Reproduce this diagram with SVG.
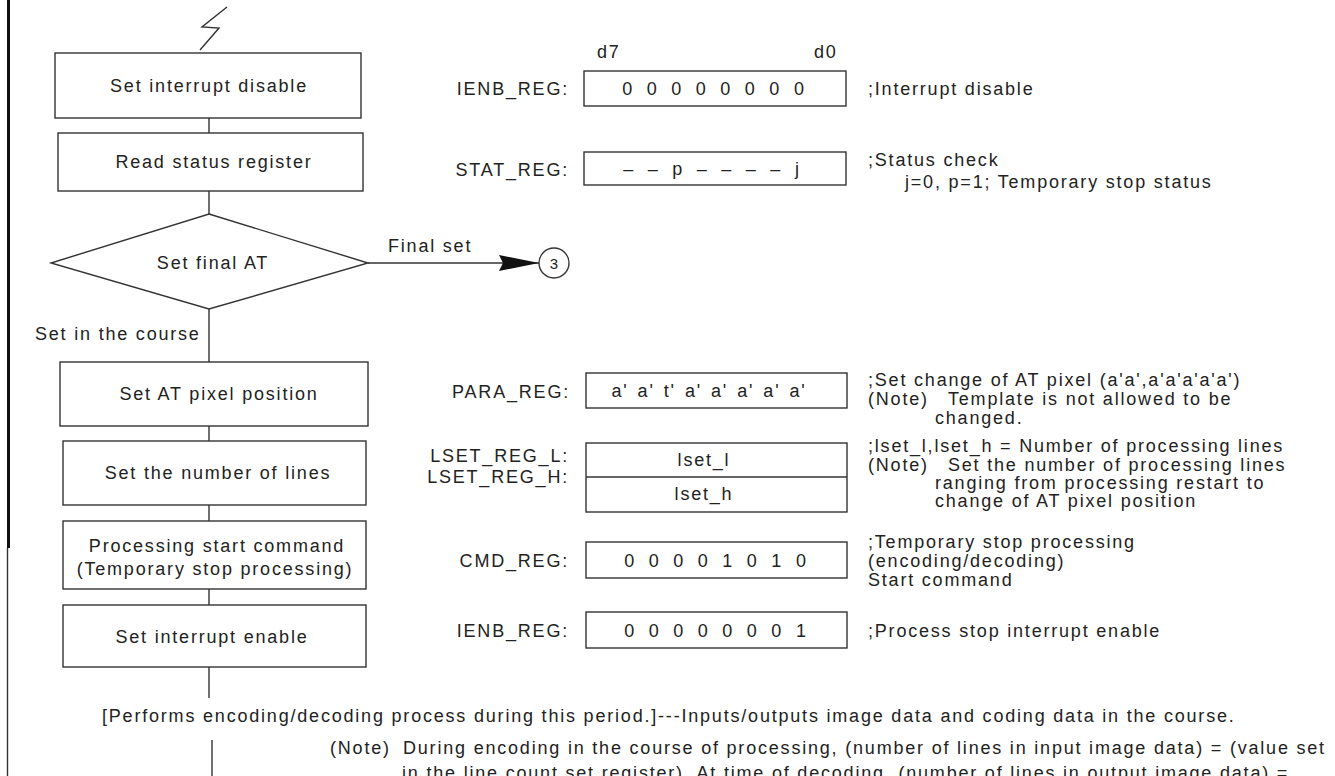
<svg xmlns="http://www.w3.org/2000/svg" width="1335" height="776" viewBox="0 0 1335 776">
  <style>
    text { font-family: "Liberation Sans", Arial, sans-serif; font-size: 18px; fill: #222; letter-spacing: 1.8px; }
    .c { text-anchor: middle; }
    .r { text-anchor: end; }
    .box { fill: #fff; stroke: #333; stroke-width: 1.4; }
    .ln { fill: none; stroke: #333; stroke-width: 1.4; }
    .reg { fill: #fff; stroke: #333; stroke-width: 1.4; }
    .bits { word-spacing: 5.9px; }
  </style>
  <defs>
    <marker id="arrow" viewBox="0 0 40 16" refX="40" refY="8" markerWidth="40" markerHeight="16" markerUnits="userSpaceOnUse" orient="auto">
      <path d="M0,0 L40,8 L0,16 L4,8 Z" fill="#111"/>
    </marker>
  </defs>

  <!-- page margin rule -->
  <line x1="8.5" y1="0" x2="8.5" y2="548" stroke="#111" stroke-width="3"/>
  <line x1="7.5" y1="548" x2="7.5" y2="776" stroke="#333" stroke-width="1.4"/>

  <!-- flow connectors -->
  <g id="connectors">
    <polyline class="ln" points="200,50 219,28 202,27 227,7"/>
    <line class="ln" x1="209" y1="118" x2="209" y2="133"/>
    <line class="ln" x1="209" y1="191" x2="209" y2="214"/>
    <line class="ln" x1="209" y1="309" x2="209" y2="362"/>
    <line class="ln" x1="209" y1="426" x2="209" y2="441"/>
    <line class="ln" x1="209" y1="505" x2="209" y2="521"/>
    <line class="ln" x1="209" y1="589" x2="209" y2="605"/>
    <line class="ln" x1="209" y1="667" x2="209" y2="698"/>
    <line class="ln" x1="212" y1="740" x2="212" y2="776"/>
    <line class="ln" x1="368" y1="263" x2="539" y2="263" marker-end="url(#arrow)"/>
    <text x="388" y="252">Final set</text>
    <text x="35" y="340">Set in the course</text>
  </g>

  <!-- flow steps -->
  <g id="step-disable">
    <rect class="box" x="55" y="53" width="306" height="65"/>
    <text class="c" x="209" y="92">Set interrupt disable</text>
  </g>
  <g id="step-read-status">
    <rect class="box" x="58" y="133" width="305" height="58"/>
    <text class="c" x="214" y="168">Read status register</text>
  </g>
  <g id="decision-final-at">
    <polygon class="box" points="209,214 368,263 209,309 51,263"/>
    <text class="c" x="213" y="269">Set final AT</text>
  </g>
  <g id="connector-3">
    <circle class="box" cx="554" cy="263" r="15"/>
    <text class="c" x="554" y="269" style="font-size:15px;letter-spacing:0">3</text>
  </g>
  <g id="step-at-pixel">
    <rect class="box" x="60" y="362" width="308" height="64"/>
    <text class="c" x="219" y="400">Set AT pixel position</text>
  </g>
  <g id="step-lines">
    <rect class="box" x="63" y="441" width="303" height="64"/>
    <text class="c" x="218" y="479">Set the number of lines</text>
  </g>
  <g id="step-start">
    <rect class="box" x="63" y="521" width="303" height="68"/>
    <text class="c" x="217" y="552">Processing start command</text>
    <text class="c" x="215" y="575">(Temporary stop processing)</text>
  </g>
  <g id="step-enable">
    <rect class="box" x="63" y="605" width="303" height="62"/>
    <text class="c" x="212" y="643">Set interrupt enable</text>
  </g>

  <!-- register images -->
  <g id="bit-labels">
    <text x="597" y="58">d7</text>
    <text x="814" y="58">d0</text>
  </g>
  <g id="reg-ienb-off">
    <text class="r" x="569" y="95">IENB_REG:</text>
    <rect class="reg" x="584" y="71" width="262" height="35"/>
    <text class="c bits" x="714" y="95">0 0 0 0 0 0 0 0</text>
    <text x="868" y="95">;Interrupt disable</text>
  </g>
  <g id="reg-stat">
    <text class="r" x="569" y="176">STAT_REG:</text>
    <rect class="reg" x="584" y="152" width="262" height="33"/>
    <text class="c bits" x="712" y="175">– – p – – – – j</text>
    <text x="868" y="166">;Status check</text>
    <text x="905" y="188">j=0, p=1; Temporary stop status</text>
  </g>
  <g id="reg-para">
    <text class="r" x="570" y="398">PARA_REG:</text>
    <rect class="reg" x="586" y="373" width="261" height="35"/>
    <text class="c" x="709" y="397" style="word-spacing:2.3px">a' a' t' a' a' a' a' a'</text>
    <text x="868" y="386">;Set change of AT pixel (a'a',a'a'a'a'a')</text>
    <text x="868" y="405">(Note)<tspan x="948">Template is not allowed to be</tspan></text>
    <text x="935" y="424">changed.</text>
  </g>
  <g id="reg-lset">
    <text class="r" x="569" y="462">LSET_REG_L:</text>
    <text class="r" x="569" y="483">LSET_REG_H:</text>
    <rect class="reg" x="586" y="443" width="261" height="69"/>
    <line class="ln" x1="586" y1="477" x2="847" y2="477"/>
    <text class="c" x="704" y="466">lset_l</text>
    <text class="c" x="704" y="500">lset_h</text>
    <text x="868" y="452">;lset_l,lset_h = Number of processing lines</text>
    <text x="868" y="471">(Note)<tspan x="948">Set the number of processing lines</tspan></text>
    <text x="935" y="489">ranging from processing restart to</text>
    <text x="935" y="507">change of AT pixel position</text>
  </g>
  <g id="reg-cmd">
    <text class="r" x="569" y="567">CMD_REG:</text>
    <rect class="reg" x="586" y="542" width="261" height="36"/>
    <text class="c bits" x="716" y="567">0 0 0 0 1 0 1 0</text>
    <text x="868" y="548">;Temporary stop processing</text>
    <text x="868" y="567">(encoding/decoding)</text>
    <text x="868" y="586">Start command</text>
  </g>
  <g id="reg-ienb-on">
    <text class="r" x="569" y="637">IENB_REG:</text>
    <rect class="reg" x="586" y="612" width="261" height="36"/>
    <text class="c bits" x="716" y="637">0 0 0 0 0 0 0 1</text>
    <text x="868" y="637">;Process stop interrupt enable</text>
  </g>

  <!-- period description and note -->
  <g id="period-note">
    <text x="102" y="722">[Performs encoding/decoding process during this period.]---Inputs/outputs image data and coding data in the course.</text>
    <text x="330" y="754">(Note)<tspan x="403">During encoding in the course of processing, (number of lines in input image data) = (value set</tspan></text>
    <text x="402" y="779">in the line count set register).  At time of decoding, (number of lines in output image data) =</text>
  </g>
</svg>
